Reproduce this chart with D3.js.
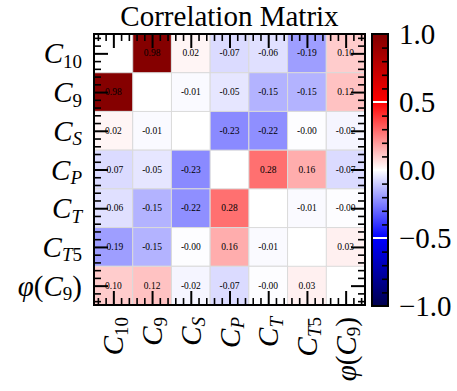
<!DOCTYPE html>
<html>
<head>
<meta charset="utf-8">
<script src="https://cdn.jsdelivr.net/npm/d3@7"></script>
<style>
  body { margin: 0; background: #fff; }
  text { font-family: "Liberation Serif", "Times New Roman", serif; fill: #000; }
</style>
</head>
<body>
<svg id="chart" width="457" height="391"></svg>
<script>
// variables, written the way the tick labels read (mathtext-ish)
const labels = ["C_{10}", "C_{9}", "C_{S}", "C_{P}", "C_{T}", "C_{T5}", "\\varphi(C_{9})"];

// correlation rows, diagonal left out (null)
const rowC10 = [null, 0.98, 0.02, -0.07, -0.06, -0.19, 0.10];
const rowC9  = [0.98, null, -0.01, -0.05, -0.15, -0.15, 0.12];
const rowCS  = [0.02, -0.01, null, -0.23, -0.22, -0.004, -0.02];
const rowCP  = [-0.07, -0.05, -0.23, null, 0.28, 0.16, -0.07];
const rowCT  = [-0.06, -0.15, -0.22, 0.28, null, -0.01, -0.004];
const rowCT5 = [-0.19, -0.15, -0.004, 0.16, -0.01, null, 0.03];
const rowPhi = [0.10, 0.12, -0.02, -0.07, -0.004, 0.03, null];
const matrix = [rowC10, rowC9, rowCS, rowCP, rowCT, rowCT5, rowPhi];

const cbarTicks = [-1, -0.5, 0, 0.5, 1];

const svg = d3.select("#chart");
const W = 457, H = 391;
svg.append("rect").attr("width", W).attr("height", H).attr("fill", "#fff");

const x0 = 94, x1 = 365, y0 = 34, y1 = 305;
const n = labels.length;

const x = d3.scaleLinear().domain([-0.5, n - 0.5]).range([x0, x1]);
const y = d3.scaleLinear().domain([-0.5, n - 0.5]).range([y0, y1]);

// matplotlib "seismic"
const color = d3.scaleLinear()
  .domain([-1, -0.5, 0, 0.5, 1])
  .range(["#00004d", "#0000ff", "#ffffff", "#ff0000", "#800000"])
  .clamp(true);

const cells = [];
matrix.forEach((row, i) => row.forEach((v, j) => { if (v !== null) cells.push({ i, j, v }); }));

const cw = x(1) - x(0), ch = y(1) - y(0);

svg.append("g").selectAll("rect").data(cells).join("rect")
  .attr("x", d => x(d.j - 0.5))
  .attr("y", d => y(d.i - 0.5))
  .attr("width", cw)
  .attr("height", ch)
  .attr("fill", d => color(d.v))
  .attr("stroke", "#dadada")
  .attr("stroke-width", 1);

svg.append("g").selectAll("text").data(cells).join("text")
  .attr("x", d => x(d.j))
  .attr("y", d => y(d.i))
  .attr("text-anchor", "middle")
  .attr("dominant-baseline", "central")
  .attr("font-size", 9.5)
  .text(d => d.v.toFixed(2));

// ticks, pointing inward on all four sides
const majors = d3.range(n);
const minors = d3.range(-0.4, n - 0.5, 0.2).filter(t => Math.abs(t - Math.round(t)) > 1e-6);

function ticks(axisFn, scale, vals, size, tr, sw) {
  const g = svg.append("g").attr("transform", tr)
    .call(axisFn(scale).tickValues(vals).tickSize(-size).tickFormat(""));
  g.select(".domain").remove();
  g.selectAll("line").attr("stroke", "#000").attr("stroke-width", sw);
}
[[d3.axisBottom, x, `translate(0,${y1})`], [d3.axisTop, x, `translate(0,${y0})`],
 [d3.axisLeft, y, `translate(${x0},0)`], [d3.axisRight, y, `translate(${x1},0)`]]
  .forEach(([fn, sc, tr]) => {
    ticks(fn, sc, majors, 14, tr, 2);
    ticks(fn, sc, minors, 7, tr, 1.6);
  });

svg.append("rect")
  .attr("x", x0).attr("y", y0)
  .attr("width", x1 - x0).attr("height", y1 - y0)
  .attr("fill", "none").attr("stroke", "#000").attr("stroke-width", 2);

// tick labels with subscripts
function parseTex(s) {
  s = s.replace("\\varphi", "φ");
  const segs = [];
  let sub = false;
  for (let k = 0; k < s.length; k++) {
    const c = s[k];
    if (c === "_" && s[k + 1] === "{") { sub = true; k++; continue; }
    if (c === "}") { sub = false; continue; }
    const it = /[A-Za-zφ]/.test(c);
    const last = segs[segs.length - 1];
    if (last && last.sub === sub && last.it === it) last.t += c;
    else segs.push({ t: c, sub, it });
  }
  return segs;
}
function writeLabel(text, str) {
  let shift = 0;
  parseTex(str).forEach(seg => {
    const want = seg.sub ? 4.5 : 0;
    text.append("tspan")
      .attr("dy", want - shift)
      .attr("font-size", seg.sub ? 19 : 29)
      .attr("font-style", seg.it ? "italic" : "normal")
      .text(seg.t);
    shift = want;
  });
}

labels.forEach((lab, i) => {
  const t = svg.append("text")
    .attr("x", x0 - 12)
    .attr("y", y(i) + 10)
    .attr("text-anchor", "end")
    .attr("font-size", 29);
  writeLabel(t, lab);
});

labels.forEach((lab, j) => {
  const t = svg.append("text")
    .attr("transform", `translate(${x(j)},${y1 + 12}) rotate(-90)`)
    .attr("x", 0)
    .attr("y", 10)
    .attr("text-anchor", "end")
    .attr("font-size", 29);
  writeLabel(t, lab);
});

// title
svg.append("text")
  .attr("x", (x0 + x1) / 2)
  .attr("y", 26)
  .attr("text-anchor", "middle")
  .attr("font-size", 29)
  .text("Correlation Matrix");

// colorbar
const cbX = 372, cbW = 16, cbTop = 34, cbBottom = 306;
const cy = d3.scaleLinear().domain([-1, 1]).range([cbBottom, cbTop]);

const grad = svg.append("defs").append("linearGradient")
  .attr("id", "cbar").attr("x1", 0).attr("y1", 1).attr("x2", 0).attr("y2", 0);
grad.selectAll("stop").data(d3.range(0, 1.0001, 0.05)).join("stop")
  .attr("offset", d => d)
  .attr("stop-color", d => color(-1 + 2 * d));

svg.append("rect")
  .attr("x", cbX).attr("y", cbTop)
  .attr("width", cbW).attr("height", cbBottom - cbTop)
  .attr("fill", "url(#cbar)");

svg.append("g").selectAll("line").data(cbarTicks.slice(1, -1)).join("line")
  .attr("x1", cbX + 1).attr("x2", cbX + cbW - 1)
  .attr("y1", d => cy(d)).attr("y2", d => cy(d))
  .attr("stroke", "#fff").attr("stroke-width", 2);

const cbMinor = d3.range(-0.9, 1, 0.1).filter(t => Math.abs(t * 2 - Math.round(t * 2)) > 1e-6);
const cbMinorG = svg.append("g").attr("transform", `translate(${cbX + cbW},0)`)
  .call(d3.axisRight(cy).tickValues(cbMinor).tickSize(-6).tickFormat(""));
cbMinorG.select(".domain").remove();
cbMinorG.selectAll("line").attr("stroke", "#000").attr("stroke-width", 1.6);

svg.append("rect")
  .attr("x", cbX).attr("y", cbTop)
  .attr("width", cbW).attr("height", cbBottom - cbTop)
  .attr("fill", "none").attr("stroke", "#000").attr("stroke-width", 2);

const cbLab = svg.append("g").attr("transform", `translate(${cbX + cbW},0)`)
  .call(d3.axisRight(cy).tickValues(cbarTicks).tickSize(0).tickPadding(11).tickFormat(d3.format(".1f")));
cbLab.select(".domain").remove();
cbLab.selectAll("text")
  .attr("font-size", 29)
  .attr("font-family", "Liberation Serif, serif")
  .attr("fill", "#000");
</script>
</body>
</html>
